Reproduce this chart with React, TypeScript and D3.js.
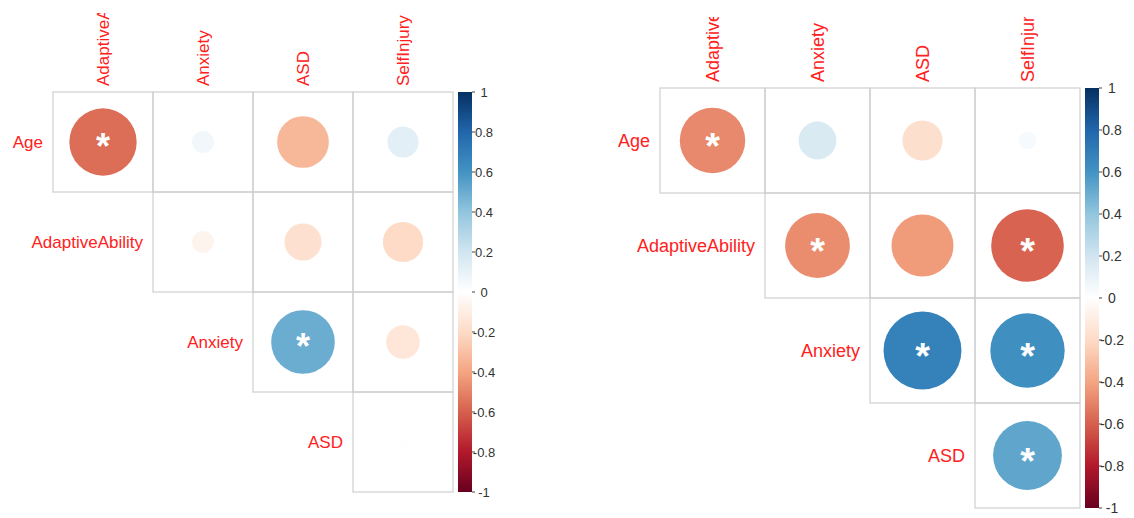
import React from 'react';
import * as d3 from 'd3';

const rowVars = ['Age', 'AdaptiveAbility', 'Anxiety', 'ASD'];
const colVars = ['AdaptiveAbility', 'Anxiety', 'ASD', 'SelfInjury'];

// upper triangle, null = empty cell
const corrLeft = [
  [-0.56, 0.06, -0.33, 0.12],
  [null, -0.06, -0.17, -0.2],
  [null, null, 0.5, -0.14],
  [null, null, null, 0.01],
];
const sigLeft = [
  [true, false, false, false],
  [false, false, false, false],
  [false, false, true, false],
  [false, false, false, false],
];

const corrRight = [
  [-0.48, 0.16, -0.18, 0.035],
  [null, -0.47, -0.43, -0.59],
  [null, null, 0.68, 0.62],
  [null, null, null, 0.53],
];
const sigRight = [
  [true, false, false, false],
  [false, true, false, true],
  [false, false, true, true],
  [false, false, false, true],
];

const legendTicks = [1, 0.8, 0.6, 0.4, 0.2, 0, -0.2, -0.4, -0.6, -0.8, -1];

// RdBu palette as used by corrplot
const palette = [
  '#67001F', '#B2182B', '#D6604D', '#F4A582', '#FDDBC7', '#FFFFFF',
  '#D1E5F0', '#92C5DE', '#4393C3', '#2166AC', '#053061',
];

const color = d3
  .scaleLinear<string>()
  .domain(palette.map((_, i) => -1 + (2 * i) / (palette.length - 1)))
  .range(palette)
  .interpolate(d3.interpolateRgb);

type PanelProps = {
  id: string;
  x0: number;
  y0: number;
  cell: number;
  corr: (number | null)[][];
  sig: boolean[][];
  labelSize: number;
  tickSize: number;
  clipTop: number;
};

const Panel = ({ id, x0, y0, cell, corr, sig, labelSize, tickSize, clipTop }: PanelProps) => {
  const n = colVars.length;
  const x = d3.scaleBand().domain(colVars).range([x0, x0 + n * cell]);
  const y = d3.scaleBand().domain(rowVars).range([y0, y0 + n * cell]);
  const r = (v: number) => (0.9 * Math.sqrt(Math.abs(v)) * cell) / 2;

  const barX = x0 + n * cell + 5;
  const barW = 14;
  const bar = d3.scaleLinear().domain([-1, 1]).range([y0 + n * cell, y0]);
  const starSize = cell * 0.36;

  return (
    <g>
      <defs>
        <clipPath id={`clip-${id}`}>
          <rect x={0} y={clipTop} width={1134} height={518} />
        </clipPath>
        <linearGradient id={`grad-${id}`} x1="0" y1="1" x2="0" y2="0">
          {palette.map((c, i) => (
            <stop key={i} offset={i / (palette.length - 1)} stopColor={c} />
          ))}
        </linearGradient>
      </defs>

      {/* column labels */}
      <g clipPath={`url(#clip-${id})`}>
        {colVars.map(c => {
          const cx = x(c)! + cell / 2;
          const ty = y0 - 6;
          return (
            <text
              key={c}
              transform={`translate(${cx},${ty}) rotate(-90)`}
              dy="0.36em"
              fill="#ff2020"
              fontSize={labelSize}
              fontFamily="'Liberation Sans', Arial, sans-serif"
            >
              {c}
            </text>
          );
        })}
      </g>

      {/* row labels, placed left of the diagonal cell */}
      {rowVars.map((rv, i) => (
        <text
          key={rv}
          x={x(colVars[i])! - 10}
          y={y(rv)! + cell / 2}
          dy="0.36em"
          textAnchor="end"
          fill="#ff2020"
          fontSize={labelSize}
          fontFamily="'Liberation Sans', Arial, sans-serif"
        >
          {rv}
        </text>
      ))}

      {/* cells */}
      {rowVars.map((rv, i) =>
        colVars.map((cv, j) => {
          const v = corr[i][j];
          if (v === null) return null;
          const cx = x(cv)! + cell / 2;
          const cy = y(rv)! + cell / 2;
          return (
            <g key={`${i}-${j}`}>
              <rect
                x={x(cv)}
                y={y(rv)}
                width={cell}
                height={cell}
                fill="none"
                stroke="#cfcfcf"
                strokeWidth={1.2}
              />
              <circle cx={cx} cy={cy} r={r(v)} fill={color(v)} />
              {sig[i][j] && (
                <text
                  x={cx}
                  y={cy + starSize * 0.48}
                  textAnchor="middle"
                  fill="#ffffff"
                  fontSize={starSize}
                  fontWeight="bold"
                  fontFamily="'Liberation Sans', Arial, sans-serif"
                >
                  *
                </text>
              )}
            </g>
          );
        })
      )}

      {/* colour legend */}
      <rect x={barX} y={y0} width={barW} height={n * cell} fill={`url(#grad-${id})`} />
      {legendTicks.map(t => (
        <g key={t}>
          <line
            x1={barX + barW}
            x2={barX + barW + 3}
            y1={bar(t)}
            y2={bar(t)}
            stroke="#444"
            strokeWidth={1}
          />
          <text
            x={barX + barW + tickSize - 1}
            y={bar(t)}
            dy="0.36em"
            textAnchor="middle"
            fill="#333"
            fontSize={tickSize}
            fontFamily="'Liberation Sans', Arial, sans-serif"
          >
            {t}
          </text>
        </g>
      ))}
    </g>
  );
};

const App = () => {
  return (
    <svg
      width={1134}
      height={518}
      style={{ position: 'absolute', left: 0, top: 0, background: '#fff' }}
    >
      <Panel
        id="left"
        x0={53}
        y0={92}
        cell={100}
        corr={corrLeft}
        sig={sigLeft}
        labelSize={17}
        tickSize={13}
        clipTop={13}
      />
      <Panel
        id="right"
        x0={660}
        y0={88}
        cell={105}
        corr={corrRight}
        sig={sigRight}
        labelSize={18}
        tickSize={14}
        clipTop={17}
      />
    </svg>
  );
};

export default App;
